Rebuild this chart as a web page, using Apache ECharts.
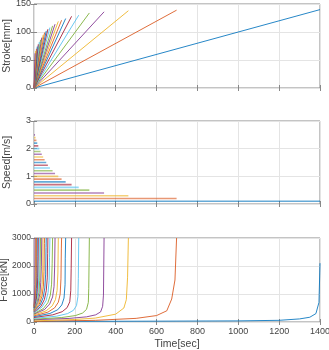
<!DOCTYPE html>
<html>
<head>
<meta charset="utf-8">
<script src="https://cdn.jsdelivr.net/npm/echarts@6/dist/echarts.min.js"></script>
<style>
  html, body { margin: 0; padding: 0; background: #fff; }
  #chart { width: 329px; height: 350px; }
</style>
</head>
<body>
<div id="chart"></div>
<script>
// one entry per run, slowest first
const speeds = [0.1, 0.2, 0.3, 0.4, 0.5, 0.6, 0.7, 0.8, 0.9, 1.0, 1.1, 1.2, 1.3,
  1.4, 1.5, 1.6, 1.7, 1.8, 1.9, 2.0, 2.1, 2.2, 2.3, 2.4, 2.5]
const endTimes = [1400, 698, 462, 343, 271, 219, 184, 155, 135, 119, 103, 91, 78,
  68, 60, 52, 45, 38, 32, 26, 21, 16, 12, 8, 5]
const endStrokes = [140, 139, 138, 136, 134, 130, 128, 124, 121, 119, 114, 111, 108,
  105, 102, 99, 95, 90, 86, 82, 78, 74, 70, 66, 62]

const forceTimes = [
  [0, 600, 1000, 1200, 1300, 1350, 1380, 1395, 1400],
  [0, 300, 500, 600, 650, 674, 690, 698],
  [0, 200, 300, 400, 440, 452, 458, 462],
  [0, 172, 257, 302, 326, 336, 340, 343],
  [0, 136, 203, 238, 257, 266, 268, 271],
  [0, 110, 164, 193, 208, 215, 217, 219],
  [0, 92, 138, 162, 175, 180, 182, 184],
  [0, 78, 116, 136, 147, 152, 153, 155],
  [0, 68, 101, 119, 128, 132, 134, 135],
  [0, 60, 89, 105, 113, 117, 119],
  [0, 52, 77, 91, 98, 101, 103],
  [0, 46, 68, 80, 86, 89, 91],
  [0, 39, 59, 69, 74, 76, 78],
  [0, 34, 51, 60, 65, 67, 68],
  [0, 30, 45, 53, 57, 59, 60],
  [0, 26, 39, 46, 49, 51, 52],
  [0, 23, 34, 40, 43, 44, 45],
  [0, 19, 29, 33, 36, 38],
  [0, 16, 24, 28, 30, 32],
  [0, 13, 20, 23, 25, 26],
  [0, 11, 16, 18, 20, 21],
  [0, 8, 12, 14, 15, 16],
  [0, 6, 9, 11, 12],
  [0, 4, 6, 7, 8],
  [0, 3, 4, 5]
]
const forceValues = [
  [20, 30, 40, 60, 110, 170, 300, 700, 2100],
  [20, 60, 130, 230, 400, 820, 1500, 3000],
  [40, 90, 140, 280, 500, 800, 1600, 3000],
  [80, 128, 184, 256, 360, 560, 960, 3000],
  [100, 160, 230, 320, 450, 700, 1200, 3000],
  [130, 208, 299, 416, 585, 910, 1560, 3000],
  [160, 256, 368, 512, 720, 1120, 1920, 3000],
  [190, 304, 437, 608, 855, 1330, 2280, 3000],
  [220, 352, 506, 704, 990, 1540, 2640, 3000],
  [250, 400, 575, 800, 1125, 1750, 3000],
  [280, 448, 644, 896, 1260, 1960, 3000],
  [300, 480, 690, 960, 1350, 2100, 3000],
  [330, 528, 759, 1056, 1485, 2310, 3000],
  [350, 560, 805, 1120, 1575, 2450, 3000],
  [380, 608, 874, 1216, 1710, 2660, 3000],
  [400, 640, 920, 1280, 1800, 2800, 3000],
  [420, 672, 966, 1344, 1890, 2940, 3000],
  [440, 704, 1012, 1408, 1980, 3000],
  [460, 736, 1058, 1472, 2070, 3000],
  [480, 768, 1104, 1536, 2160, 3000],
  [500, 800, 1150, 1600, 2250, 3000],
  [520, 832, 1196, 1664, 2340, 3000],
  [540, 864, 1242, 1728, 3000],
  [560, 896, 1288, 1792, 3000],
  [580, 928, 1334, 3000]
]

const colorList = ['#0072BD', '#D95319', '#EDB120', '#7E2F8E', '#77AC30', '#4DBEEE', '#A2142F']
const font = 'Liberation Sans, Arial, sans-serif'
const textColor = '#444'
const boxColor = '#888'

const grids = [
  { left: 34, right: 9, top: 4, height: 84 },
  { left: 34, right: 9, top: 121, height: 83 },
  { left: 34, right: 9, top: 238, height: 84 }
].map(g => Object.assign(g, {
  show: true,
  borderColor: boxColor,
  borderWidth: 1,
  backgroundColor: 'transparent',
  containLabel: false,
  outerBoundsMode: 'none'
}))

const plain = v => String(v)

function mainX (idx) {
  return {
    type: 'value',
    gridIndex: idx,
    min: 0,
    max: 1400,
    interval: 200,
    name: idx === 2 ? 'Time[sec]' : '',
    nameLocation: 'middle',
    nameGap: 17,
    nameMoveOverlap: false,
    nameTextStyle: { color: textColor, fontSize: 10.5, fontFamily: font },
    axisLine: { show: false },
    axisTick: { show: true, inside: true, length: 3, lineStyle: { color: boxColor } },
    axisLabel: { show: idx === 2, color: textColor, fontSize: 9, fontFamily: font, margin: 5, formatter: plain },
    splitLine: { show: true, lineStyle: { color: '#e4e4e4', width: 1 } }
  }
}

function mirrorX (idx) {
  return {
    type: 'value',
    gridIndex: idx,
    position: 'top',
    min: 0,
    max: 1400,
    interval: 200,
    axisLine: { show: false },
    axisTick: { show: true, inside: true, length: 3, lineStyle: { color: boxColor } },
    axisLabel: { show: false },
    splitLine: { show: false }
  }
}

const yConf = [
  { name: 'Stroke[mm]', max: 150, interval: 50 },
  { name: 'Speed[m/s]', max: 3, interval: 1 },
  { name: 'Force[kN]', max: 3000, interval: 1000 }
]

function mainY (idx) {
  return {
    type: 'value',
    gridIndex: idx,
    min: 0,
    max: yConf[idx].max,
    interval: yConf[idx].interval,
    name: yConf[idx].name,
    nameLocation: 'middle',
    nameGap: idx === 2 ? 25 : 21,
    nameMoveOverlap: false,
    nameTextStyle: { color: textColor, fontSize: idx === 2 ? 10 : 10.5, fontFamily: font },
    axisLine: { show: false },
    axisTick: { show: true, inside: true, length: 3, lineStyle: { color: boxColor } },
    axisLabel: { color: textColor, fontSize: idx === 2 ? 8.5 : 9, fontFamily: font, margin: 3, formatter: plain },
    splitLine: { show: true, lineStyle: { color: '#e4e4e4', width: 1 } }
  }
}

function mirrorY (idx) {
  return {
    type: 'value',
    gridIndex: idx,
    position: 'right',
    min: 0,
    max: yConf[idx].max,
    interval: yConf[idx].interval,
    axisLine: { show: false },
    axisTick: { show: true, inside: true, length: 3, lineStyle: { color: boxColor } },
    axisLabel: { show: false },
    splitLine: { show: false }
  }
}

const series = []
speeds.forEach((v, i) => {
  const color = colorList[i % colorList.length]
  series.push({
    type: 'line',
    xAxisIndex: 0,
    yAxisIndex: 0,
    showSymbol: false,
    lineStyle: { color: color, width: 1, opacity: 0.85 },
    data: [[0, 0], [endTimes[i], endStrokes[i]]]
  })
  series.push({
    type: 'line',
    xAxisIndex: 1,
    yAxisIndex: 1,
    showSymbol: false,
    lineStyle: { color: color, width: 1.6, opacity: 0.6 },
    data: [[0, v], [endTimes[i], v]]
  })
  series.push({
    type: 'line',
    xAxisIndex: 2,
    yAxisIndex: 2,
    showSymbol: false,
    lineStyle: { color: color, width: 1, opacity: 0.85 },
    data: forceTimes[i].map((t, k) => [t, forceValues[i][k]])
  })
})

const chart = echarts.init(document.getElementById('chart'))
chart.setOption({
  animation: false,
  grid: grids,
  xAxis: [mainX(0), mainX(1), mainX(2), mirrorX(0), mirrorX(1), mirrorX(2)],
  yAxis: [mainY(0), mainY(1), mainY(2), mirrorY(0), mirrorY(1), mirrorY(2)],
  series: series
})
</script>
</body>
</html>
